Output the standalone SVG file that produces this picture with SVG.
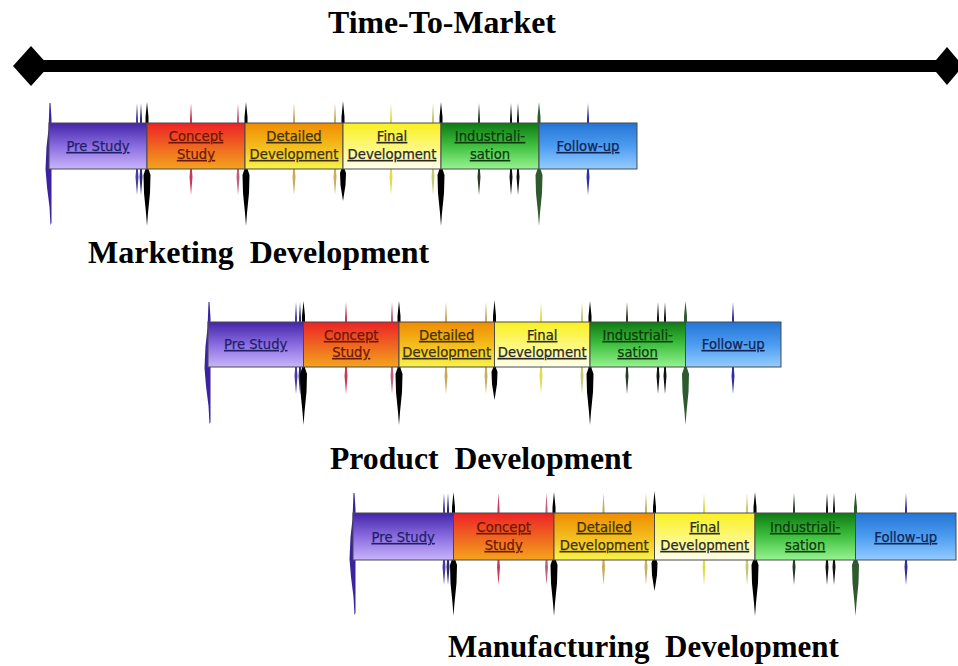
<svg xmlns="http://www.w3.org/2000/svg" xmlns:xlink="http://www.w3.org/1999/xlink" width="958" height="666" viewBox="0 0 958 666">
<style>
.title{font-family:"Liberation Serif","Times New Roman",serif;font-weight:bold;fill:#000;white-space:pre}
.lbl{font-family:"DejaVu Sans","Verdana",sans-serif;font-size:13.2px;text-decoration:underline;text-anchor:middle;stroke-width:0.25}
.box{stroke:#4a4a4a;stroke-width:1}
</style>
<defs>
<linearGradient id="gPre" x1="0" y1="0" x2="0" y2="1"><stop offset="0" stop-color="#4324a8"/><stop offset="0.5" stop-color="#8a6ce0"/><stop offset="1" stop-color="#c8b4fa"/></linearGradient>
<linearGradient id="gCon" x1="0" y1="0" x2="0" y2="1"><stop offset="0" stop-color="#ec2226"/><stop offset="0.55" stop-color="#f06a20"/><stop offset="1" stop-color="#f4a41c"/></linearGradient>
<linearGradient id="gDet" x1="0" y1="0" x2="0" y2="1"><stop offset="0" stop-color="#f08c00"/><stop offset="0.55" stop-color="#f4c020"/><stop offset="1" stop-color="#f8f44c"/></linearGradient>
<linearGradient id="gFin" x1="0" y1="0" x2="0" y2="1"><stop offset="0" stop-color="#faf020"/><stop offset="0.55" stop-color="#fcf880"/><stop offset="1" stop-color="#fffff2"/></linearGradient>
<linearGradient id="gInd" x1="0" y1="0" x2="0" y2="1"><stop offset="0" stop-color="#0e7a12"/><stop offset="0.5" stop-color="#40c040"/><stop offset="1" stop-color="#96f490"/></linearGradient>
<linearGradient id="gFol" x1="0" y1="0" x2="0" y2="1"><stop offset="0" stop-color="#2474d6"/><stop offset="0.5" stop-color="#4c9cf0"/><stop offset="1" stop-color="#94ccff"/></linearGradient>
<path id="thin" d="M0,-20 L1,-4 L1,48 L1.5,54 L0,72 L-1.5,54 L-1,48 L-1,-4 Z"/>
<path id="tall" d="M0,-21 L1.5,-6 L1.5,46 L3.5,52 L3,70 L1,90 L0,103 L-1,90 L-3,70 L-3.5,52 L-1.5,46 L-1.5,-6 Z"/>
<path id="short" d="M0,-22 L1.5,-6 L1.5,46 L3,50 L2.5,62 L0,78 L-2.5,62 L-3,50 L-1.5,46 L-1.5,-6 Z"/>
<path id="first" d="M0.5,-20 L1.5,-4 L1.5,100 L0.5,102 L-0.5,84 L-3,64 L-4.5,46 L-3.5,24 L-1.5,6 L-0.5,-20 Z"/>
</defs>

<g id="connectors">
<g id="time-to-market-arrow">
<rect x="40" y="60" width="900" height="12" fill="#000"/>
<polygon points="13,66 31,46 49,66 31,86" fill="#000"/>
<polygon points="931,66 947,47 963,66 947,85" fill="#000"/>
</g>
</g>
<text class="title" x="328" y="33" font-size="31.8">Time-To-Market</text>

<!-- Row 1: Marketing Development -->
<g id="gates-marketing">
<use xlink:href="#first" x="50" y="123" fill="#3a22a0"/>
<use xlink:href="#thin" x="137" y="123" fill="#4a3aa8"/>
<use xlink:href="#thin" x="141" y="123" fill="#2a2a70"/>
<use xlink:href="#tall" x="147" y="123" fill="#000"/>
<use xlink:href="#thin" x="191" y="123" fill="#c83a5a"/>
<use xlink:href="#thin" x="238" y="123" fill="#c06080"/>
<use xlink:href="#tall" x="246" y="123" fill="#000"/>
<use xlink:href="#thin" x="294" y="123" fill="#c8aa58"/>
<use xlink:href="#thin" x="335" y="123" fill="#c8b060"/>
<use xlink:href="#short" x="343" y="123" fill="#000"/>
<use xlink:href="#thin" x="391" y="123" fill="#e0dc50"/>
<use xlink:href="#thin" x="433" y="123" fill="#c8c870"/>
<use xlink:href="#tall" x="441" y="123" fill="#000"/>
<use xlink:href="#thin" x="479" y="123" fill="#2a3a2a"/>
<use xlink:href="#thin" x="511" y="123" fill="#111"/>
<use xlink:href="#thin" x="518" y="123" fill="#111"/>
<use xlink:href="#tall" x="539" y="123" fill="#2e5a2e"/>
<use xlink:href="#thin" x="588" y="123" fill="#3030a0"/>
</g>
<g id="m-prestudy"><rect class="box" x="49" y="123" width="98" height="46" fill="url(#gPre)"/><text class="lbl" x="98" y="151" fill="#221f6a" stroke="#221f6a">Pre Study</text></g>
<g id="m-concept"><rect class="box" x="147" y="123" width="98" height="46" fill="url(#gCon)"/><text class="lbl" x="196" y="141" fill="#701608" stroke="#701608">Concept</text><text class="lbl" x="196" y="159" fill="#701608" stroke="#701608">Study</text></g>
<g id="m-detailed"><rect class="box" x="245" y="123" width="98" height="46" fill="url(#gDet)"/><text class="lbl" x="294" y="141" fill="#403206" stroke="#403206">Detailed</text><text class="lbl" x="294" y="159" fill="#403206" stroke="#403206">Development</text></g>
<g id="m-final"><rect class="box" x="343" y="123" width="98" height="46" fill="url(#gFin)"/><text class="lbl" x="392" y="141" fill="#2a2a22" stroke="#2a2a22">Final</text><text class="lbl" x="392" y="159" fill="#2a2a22" stroke="#2a2a22">Development</text></g>
<g id="m-industrial"><rect class="box" x="441" y="123" width="98" height="46" fill="url(#gInd)"/><text class="lbl" x="490" y="141" fill="#0c3a0c" stroke="#0c3a0c">Industriali-</text><text class="lbl" x="490" y="159" fill="#0c3a0c" stroke="#0c3a0c">sation</text></g>
<g id="m-followup"><rect class="box" x="539" y="123" width="98" height="46" fill="url(#gFol)"/><text class="lbl" x="588" y="151" fill="#0e2456" stroke="#0e2456">Follow-up</text></g>
<text class="title" x="88" y="263" font-size="32" xml:space="preserve">Marketing  Development</text>

<!-- Row 2: Product Development -->
<g id="gates-product">
<use xlink:href="#first" x="209" y="322" fill="#3a22a0"/>
<use xlink:href="#thin" x="296" y="322" fill="#4a3aa8"/>
<use xlink:href="#thin" x="300" y="322" fill="#2a2a70"/>
<use xlink:href="#tall" x="303.5" y="322" fill="#000"/>
<use xlink:href="#thin" x="346" y="322" fill="#c83a5a"/>
<use xlink:href="#thin" x="392" y="322" fill="#c06080"/>
<use xlink:href="#tall" x="399" y="322" fill="#000"/>
<use xlink:href="#thin" x="446" y="322" fill="#c8aa58"/>
<use xlink:href="#thin" x="486" y="322" fill="#c8b060"/>
<use xlink:href="#short" x="494.5" y="322" fill="#000"/>
<use xlink:href="#thin" x="541" y="322" fill="#e0dc50"/>
<use xlink:href="#thin" x="582" y="322" fill="#c8c870"/>
<use xlink:href="#tall" x="590" y="322" fill="#000"/>
<use xlink:href="#thin" x="627" y="322" fill="#2a3a2a"/>
<use xlink:href="#thin" x="658" y="322" fill="#111"/>
<use xlink:href="#thin" x="665" y="322" fill="#111"/>
<use xlink:href="#tall" x="685.5" y="322" fill="#2e5a2e"/>
<use xlink:href="#thin" x="733" y="322" fill="#3030a0"/>
</g>
<g id="p-prestudy"><rect class="box" x="208" y="322" width="95.5" height="45" fill="url(#gPre)"/><text class="lbl" x="255.7" y="349" fill="#221f6a" stroke="#221f6a">Pre Study</text></g>
<g id="p-concept"><rect class="box" x="303.5" y="322" width="95.5" height="45" fill="url(#gCon)"/><text class="lbl" x="351.2" y="340" fill="#701608" stroke="#701608">Concept</text><text class="lbl" x="351.2" y="357" fill="#701608" stroke="#701608">Study</text></g>
<g id="p-detailed"><rect class="box" x="399" y="322" width="95.5" height="45" fill="url(#gDet)"/><text class="lbl" x="446.7" y="340" fill="#403206" stroke="#403206">Detailed</text><text class="lbl" x="446.7" y="357" fill="#403206" stroke="#403206">Development</text></g>
<g id="p-final"><rect class="box" x="494.5" y="322" width="95.5" height="45" fill="url(#gFin)"/><text class="lbl" x="542.2" y="340" fill="#2a2a22" stroke="#2a2a22">Final</text><text class="lbl" x="542.2" y="357" fill="#2a2a22" stroke="#2a2a22">Development</text></g>
<g id="p-industrial"><rect class="box" x="590" y="322" width="95.5" height="45" fill="url(#gInd)"/><text class="lbl" x="637.7" y="340" fill="#0c3a0c" stroke="#0c3a0c">Industriali-</text><text class="lbl" x="637.7" y="357" fill="#0c3a0c" stroke="#0c3a0c">sation</text></g>
<g id="p-followup"><rect class="box" x="685.5" y="322" width="95.5" height="45" fill="url(#gFol)"/><text class="lbl" x="733.2" y="349" fill="#0e2456" stroke="#0e2456">Follow-up</text></g>
<text class="title" x="330" y="469" font-size="31.7" xml:space="preserve">Product  Development</text>

<!-- Row 3: Manufacturing Development -->
<g id="gates-manufacturing">
<use xlink:href="#first" x="354" y="513" fill="#3a22a0"/>
<use xlink:href="#thin" x="444" y="513" fill="#4a3aa8"/>
<use xlink:href="#thin" x="448" y="513" fill="#2a2a70"/>
<use xlink:href="#tall" x="453.5" y="513" fill="#000"/>
<use xlink:href="#thin" x="498.5" y="513" fill="#c83a5a"/>
<use xlink:href="#thin" x="546.5" y="513" fill="#c06080"/>
<use xlink:href="#tall" x="554" y="513" fill="#000"/>
<use xlink:href="#thin" x="603.5" y="513" fill="#c8aa58"/>
<use xlink:href="#thin" x="646" y="513" fill="#c8b060"/>
<use xlink:href="#short" x="654.5" y="513" fill="#000"/>
<use xlink:href="#thin" x="704" y="513" fill="#e0dc50"/>
<use xlink:href="#thin" x="747" y="513" fill="#c8c870"/>
<use xlink:href="#tall" x="755" y="513" fill="#000"/>
<use xlink:href="#thin" x="794" y="513" fill="#2a3a2a"/>
<use xlink:href="#thin" x="827" y="513" fill="#111"/>
<use xlink:href="#thin" x="834" y="513" fill="#111"/>
<use xlink:href="#tall" x="855.5" y="513" fill="#2e5a2e"/>
<use xlink:href="#thin" x="906" y="513" fill="#3030a0"/>
</g>
<g id="f-prestudy"><rect class="box" x="353" y="513" width="100.5" height="47" fill="url(#gPre)"/><text class="lbl" x="403.2" y="542" fill="#221f6a" stroke="#221f6a">Pre Study</text></g>
<g id="f-concept"><rect class="box" x="453.5" y="513" width="100.5" height="47" fill="url(#gCon)"/><text class="lbl" x="503.7" y="532" fill="#701608" stroke="#701608">Concept</text><text class="lbl" x="503.7" y="550" fill="#701608" stroke="#701608">Study</text></g>
<g id="f-detailed"><rect class="box" x="554" y="513" width="100.5" height="47" fill="url(#gDet)"/><text class="lbl" x="604.2" y="532" fill="#403206" stroke="#403206">Detailed</text><text class="lbl" x="604.2" y="550" fill="#403206" stroke="#403206">Development</text></g>
<g id="f-final"><rect class="box" x="654.5" y="513" width="100.5" height="47" fill="url(#gFin)"/><text class="lbl" x="704.7" y="532" fill="#2a2a22" stroke="#2a2a22">Final</text><text class="lbl" x="704.7" y="550" fill="#2a2a22" stroke="#2a2a22">Development</text></g>
<g id="f-industrial"><rect class="box" x="755" y="513" width="100.5" height="47" fill="url(#gInd)"/><text class="lbl" x="805.2" y="532" fill="#0c3a0c" stroke="#0c3a0c">Industriali-</text><text class="lbl" x="805.2" y="550" fill="#0c3a0c" stroke="#0c3a0c">sation</text></g>
<g id="f-followup"><rect class="box" x="855.5" y="513" width="100.5" height="47" fill="url(#gFol)"/><text class="lbl" x="905.7" y="542" fill="#0e2456" stroke="#0e2456">Follow-up</text></g>
<text class="title" x="448" y="657" font-size="31" xml:space="preserve">Manufacturing  Development</text>
</svg>
